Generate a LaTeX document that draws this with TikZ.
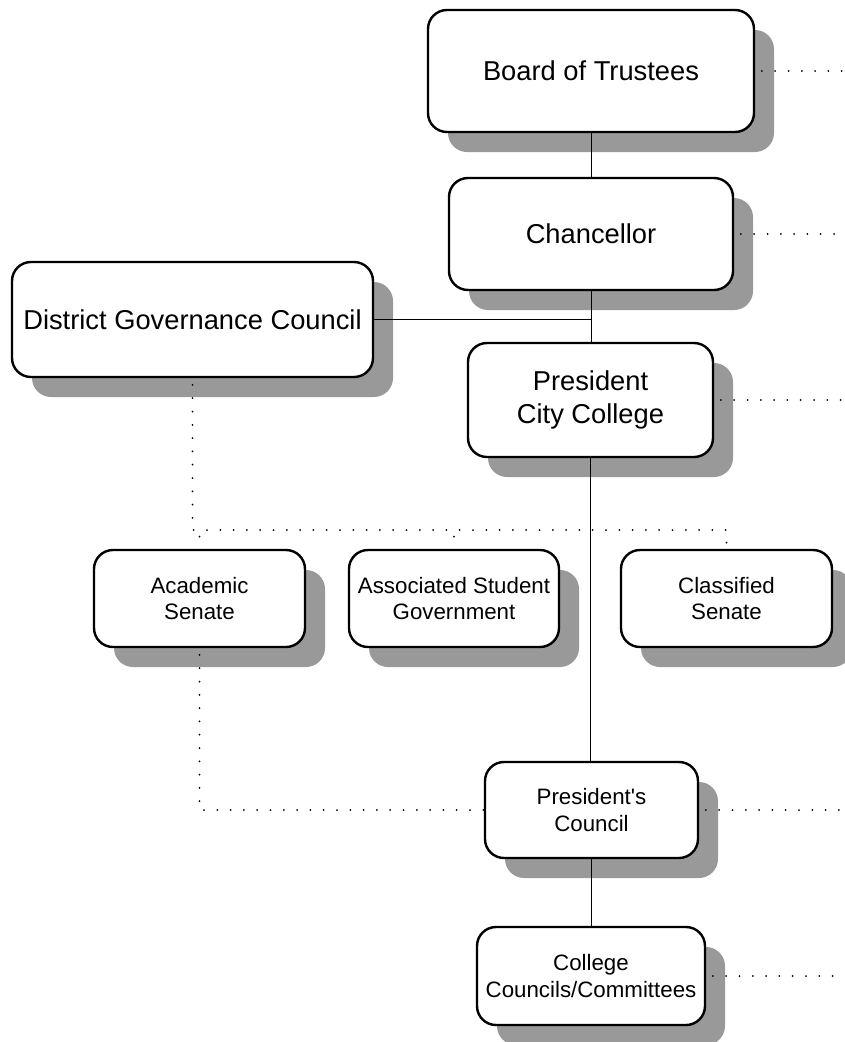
\documentclass[tikz,border=0pt]{standalone}
\usepackage{fontspec}
\setmainfont{Liberation Sans}[Ligatures=TeXOff]
\usetikzlibrary{shadows}
\definecolor{shadowgray}{RGB}{153,153,153}
\tikzset{
  box/.style={draw=black, line width=2.4pt, rounded corners=19pt, fill=white,
    inner sep=0pt, align=center,
    drop shadow={shadow xshift=20pt, shadow yshift=-20pt, fill=shadowgray, opacity=1}},
  bigtext/.style={font=\fontsize{27.3}{33}\selectfont},
  smalltext/.style={font=\fontsize{22.3}{26.8}\selectfont},
  link/.style={draw=black, line width=1pt},
  dots/.style={draw=black, line width=2pt, line cap=round, dash pattern=on 0pt off 13.3pt, dash phase=6.6pt}
}
\begin{document}
\begin{tikzpicture}[x=1pt,y=-1pt]
\useasboundingbox (0,0) rectangle (845,1042);
\node[box,bigtext,minimum width=326pt,minimum height=122pt] (board) at (591,71) {Board of Trustees};
\node[box,bigtext,minimum width=284pt,minimum height=112pt] (chan) at (591,234) {Chancellor};
\node[box,bigtext,minimum width=361pt,minimum height=115pt] (dgc) at (192.5,319.5) {District Governance Council};
\node[box,bigtext,minimum width=245pt,minimum height=114pt] (pres) at (590.5,400) {President\\City College};
\node[box,smalltext,minimum width=211pt,minimum height=97pt] (acad) at (199.5,598.5) {Academic\\Senate};
\node[box,smalltext,minimum width=210pt,minimum height=97pt] (asg) at (454,598.5) {Associated Student\\Government};
\node[box,smalltext,minimum width=211pt,minimum height=97pt] (cls) at (726.5,598.5) {Classified\\Senate};
\node[box,smalltext,minimum width=213pt,minimum height=96pt] (pc) at (591.5,810) {President's\\Council};
\node[box,smalltext,minimum width=228pt,minimum height=98pt] (ccc) at (591,976) {College\\Councils/Committees};
\coordinate (redge) at (845,0);
\coordinate (bus) at (0,530);
% solid links
\path[link] (board.south) -- (chan.north);
\path[link] (chan.south) -- (chan.south |- pres.north);
\path[link] (dgc.east) -- (dgc.east -| chan.south);
\path[link] (pres.south) -- (pres.south |- pc.north);
\path[link] (pc.south) -- (pc.south |- ccc.north);
% dotted links
\path[dots] (board.east) -- (board.east -| redge);
\path[dots] (chan.east) -- (chan.east -| redge);
\path[dots] (pres.east) -- (pres.east -| redge);
\path[dots] (pc.east) -- (pc.east -| redge);
\path[dots] (ccc.east) -- (ccc.east -| redge);
\path[dots] (dgc.south) -- (dgc.south |- bus) -- (cls.north |- bus) -- (cls.north);
\path[dots] (asg.north |- bus) -- (asg.north);
\path[dots] (acad.north |- bus) -- (acad.north);
\path[dots] (acad.south) -- (acad.south |- pc.west) -- (pc.west);
\end{tikzpicture}
\end{document}
